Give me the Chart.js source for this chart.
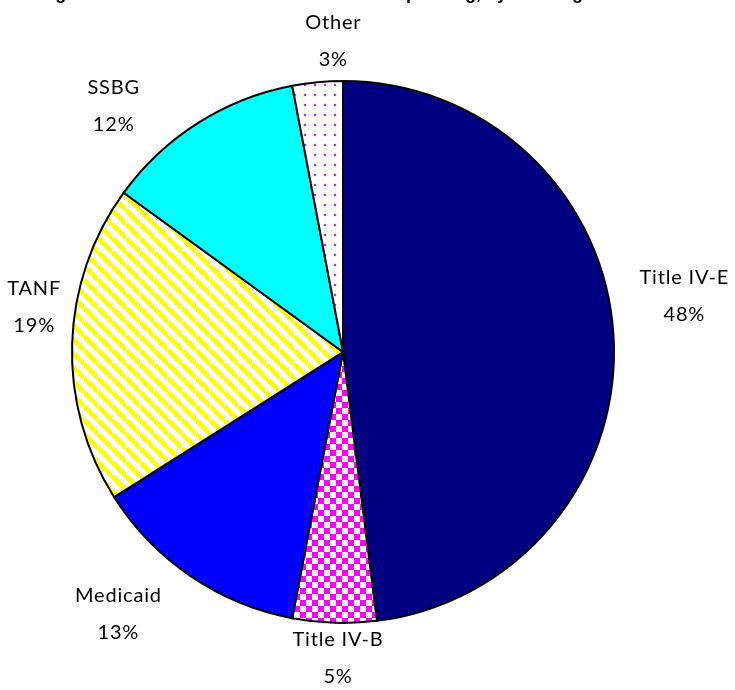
<!DOCTYPE html>
<html lang="en">
<head>
    <meta charset="UTF-8">
    <title>Child Welfare Spending, by Funding Source</title>
    <script src="https://cdn.jsdelivr.net/npm/chart.js"></script>
    <style>
        html, body { margin: 0; padding: 0; background: #fff; }
        #wrap { width: 735px; height: 690px; position: relative; }
    </style>
</head>
<body>
    <div id="wrap">
        <canvas id="pieChart" width="735" height="690"></canvas>
    </div>

    <script>
        // Data
        const categories = ['Title IV-E', 'Title IV-B', 'Medicaid', 'TANF', 'SSBG', 'Other'];
        const shares = [48, 5, 13, 19, 12, 3];
        // small nudges (px) so each label sits where the original placed it
        const labelNudgeX = [26, 5, -47, 7, -60, 20];
        const labelNudgeY = [-37, -10, 0, -36, 20, 3];
        const titleText = 'Figure 1. Federal and State Child Welfare Spending, by Funding Source';

        // pattern fills
        function makeTile(size, draw) {
            const c = document.createElement('canvas');
            c.width = size;
            c.height = size;
            const g = c.getContext('2d');
            g.fillStyle = '#ffffff';
            g.fillRect(0, 0, size, size);
            draw(g, size);
            return document.createElement('canvas').getContext('2d').createPattern(c, 'repeat');
        }

        const checker = makeTile(12, (g, s) => {
            g.fillStyle = '#ff00ff';
            g.fillRect(0, 0, s / 2, s / 2);
            g.fillRect(s / 2, s / 2, s / 2, s / 2);
        });

        const stripes = makeTile(14, (g, s) => {
            g.strokeStyle = '#ffff00';
            g.lineWidth = 5;
            for (let k = -1; k <= 1; k++) {
                g.beginPath();
                g.moveTo(0, k * s);
                g.lineTo(s, s + k * s);
                g.stroke();
            }
        });

        const dots = makeTile(10, (g, s) => {
            g.fillStyle = '#a040b8';
            g.beginPath();
            g.arc(5, 5, 1.3, 0, Math.PI * 2);
            g.fill();
        });

        const fills = ['#000080', checker, '#0000ff', stripes, '#00ffff', dots];

        // labels outside each slice plus the clipped title at the top
        const outsideLabels = {
            id: 'outsideLabels',
            afterDraw(chart) {
                const ctx = chart.ctx;
                const arcs = chart.getDatasetMeta(0).data;
                ctx.save();
                ctx.fillStyle = '#000';
                ctx.textAlign = 'center';
                ctx.textBaseline = 'middle';
                ctx.font = '20px Lato';
                ctx.letterSpacing = '0.8px';
                arcs.forEach((arc, i) => {
                    const mid = (arc.startAngle + arc.endAngle) / 2;
                    const r = arc.outerRadius + 45;
                    const x = arc.x + Math.cos(mid) * r + labelNudgeX[i];
                    const y = arc.y + Math.sin(mid) * r + labelNudgeY[i];
                    ctx.fillText(categories[i], x, y - 18);
                    ctx.fillText(shares[i] + '%', x, y + 19);
                });

                // title, mostly cut off by the top edge
                ctx.letterSpacing = '0px';
                ctx.font = 'bold 18px "Liberation Sans"';
                ctx.textAlign = 'left';
                ctx.textBaseline = 'alphabetic';
                const pre = ctx.measureText('Figure 1. Federal and State Child Welfare S').width;
                ctx.fillText(titleText, 406 - pre, -1);
                ctx.restore();
            }
        };

        const ctx = document.getElementById('pieChart').getContext('2d');
        new Chart(ctx, {
            type: 'pie',
            data: {
                labels: categories,
                datasets: [{
                    data: shares,
                    backgroundColor: fills,
                    borderColor: '#000000',
                    borderWidth: 2,
                    borderJoinStyle: 'miter'
                }]
            },
            options: {
                responsive: false,
                animation: false,
                layout: {
                    padding: { top: 80, bottom: 66, left: 71, right: 120 }
                },
                plugins: {
                    legend: { display: false },
                    title: { display: false },
                    tooltip: { enabled: false }
                }
            },
            plugins: [outsideLabels]
        });
    </script>
</body>
</html>
